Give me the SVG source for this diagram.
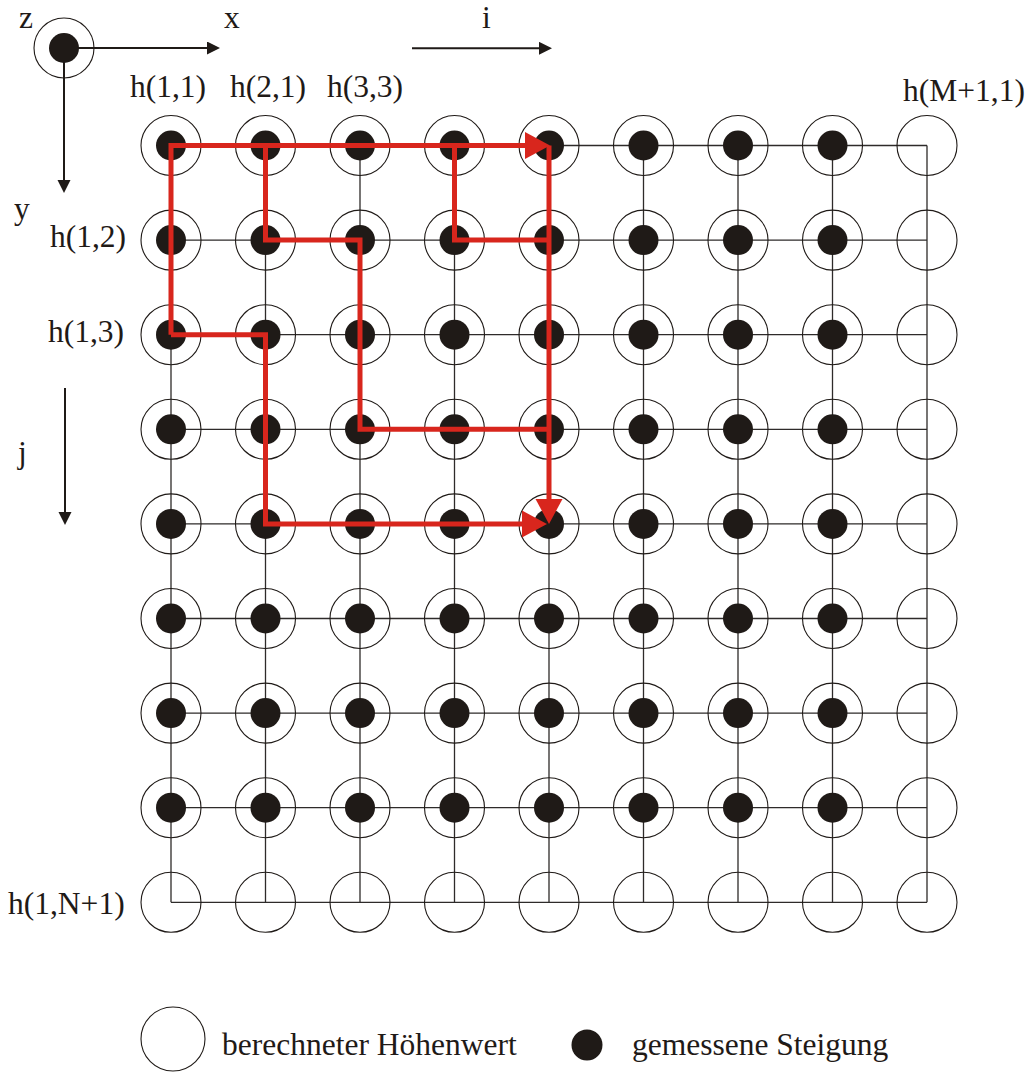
<svg xmlns="http://www.w3.org/2000/svg" xmlns:xlink="http://www.w3.org/1999/xlink" width="1032" height="1072" viewBox="0 0 1032 1072">
<defs>
<style>
.lbl{font-family:"Liberation Serif","Times New Roman",serif;font-size:31.5px;fill:#1f1a17}
.grid{stroke:#2e2b2a;stroke-width:1.3;fill:none}
.ring{fill:none;stroke:#1f1a17;stroke-width:1.1}
.dot{fill:#1f1a17}
.red{fill:none;stroke:#d8261d;stroke-width:5;stroke-linejoin:miter}
.axis{fill:none;stroke:#1f1a17;stroke-width:2}
</style>
<marker id="redArrow" markerUnits="userSpaceOnUse" markerWidth="26" markerHeight="28" refX="15" refY="13.5" orient="auto" viewBox="0 0 26 28">
<path d="M0,0 L25,13.5 L0,27 z" fill="#d8261d"/>
</marker>
<marker id="blkArrow" markerUnits="userSpaceOnUse" markerWidth="14" markerHeight="14" refX="2" refY="6.5" orient="auto" viewBox="0 0 14 14">
<path d="M0,0 L13,6.5 L0,13 z" fill="#1f1a17"/>
</marker>
<g id="full"><circle class="ring" r="30"/><circle class="dot" r="15"/></g>
<g id="empty"><circle class="ring" r="30"/></g>
</defs>
<rect width="1032" height="1072" fill="#ffffff"/>

<g id="connectors">
<g id="grid">
<path class="grid" d="M171,145.5H927M171,240.1H927M171,334.7H927M171,429.3H927M171,523.9H927M171,618.5H927M171,713.1H927M171,807.7H927M171,902.3H927"/>
<path class="grid" d="M171,145.5V902.3M265.5,145.5V902.3M360,145.5V902.3M454.5,145.5V902.3M549,145.5V902.3M643.5,145.5V902.3M738,145.5V902.3M832.5,145.5V902.3M927,145.5V902.3"/>
</g>
<g id="axes">
<path class="axis" d="M64,48H209" marker-end="url(#blkArrow)"/>
<path class="axis" d="M64,48V182" marker-end="url(#blkArrow)"/>
<path class="axis" d="M412,48.3H541" marker-end="url(#blkArrow)"/>
<path class="axis" d="M65,388V514" marker-end="url(#blkArrow)"/>
</g>
</g>

<g id="nodes">
<g id="axis-origin"><use xlink:href="#full" x="64" y="48"/></g>
<g id="row1">
<g id="n1-1"><use xlink:href="#full" x="171" y="145.5"/></g>
<g id="n2-1"><use xlink:href="#full" x="265.5" y="145.5"/></g>
<g id="n3-1"><use xlink:href="#full" x="360" y="145.5"/></g>
<g id="n4-1"><use xlink:href="#full" x="454.5" y="145.5"/></g>
<g id="n5-1"><use xlink:href="#full" x="549" y="145.5"/></g>
<g id="n6-1"><use xlink:href="#full" x="643.5" y="145.5"/></g>
<g id="n7-1"><use xlink:href="#full" x="738" y="145.5"/></g>
<g id="n8-1"><use xlink:href="#full" x="832.5" y="145.5"/></g>
<g id="n9-1"><use xlink:href="#empty" x="927" y="145.5"/></g>
</g>
<g id="row2">
<g id="n1-2"><use xlink:href="#full" x="171" y="240.1"/></g>
<g id="n2-2"><use xlink:href="#full" x="265.5" y="240.1"/></g>
<g id="n3-2"><use xlink:href="#full" x="360" y="240.1"/></g>
<g id="n4-2"><use xlink:href="#full" x="454.5" y="240.1"/></g>
<g id="n5-2"><use xlink:href="#full" x="549" y="240.1"/></g>
<g id="n6-2"><use xlink:href="#full" x="643.5" y="240.1"/></g>
<g id="n7-2"><use xlink:href="#full" x="738" y="240.1"/></g>
<g id="n8-2"><use xlink:href="#full" x="832.5" y="240.1"/></g>
<g id="n9-2"><use xlink:href="#empty" x="927" y="240.1"/></g>
</g>
<g id="row3">
<g id="n1-3"><use xlink:href="#full" x="171" y="334.7"/></g>
<g id="n2-3"><use xlink:href="#full" x="265.5" y="334.7"/></g>
<g id="n3-3"><use xlink:href="#full" x="360" y="334.7"/></g>
<g id="n4-3"><use xlink:href="#full" x="454.5" y="334.7"/></g>
<g id="n5-3"><use xlink:href="#full" x="549" y="334.7"/></g>
<g id="n6-3"><use xlink:href="#full" x="643.5" y="334.7"/></g>
<g id="n7-3"><use xlink:href="#full" x="738" y="334.7"/></g>
<g id="n8-3"><use xlink:href="#full" x="832.5" y="334.7"/></g>
<g id="n9-3"><use xlink:href="#empty" x="927" y="334.7"/></g>
</g>
<g id="row4">
<g id="n1-4"><use xlink:href="#full" x="171" y="429.3"/></g>
<g id="n2-4"><use xlink:href="#full" x="265.5" y="429.3"/></g>
<g id="n3-4"><use xlink:href="#full" x="360" y="429.3"/></g>
<g id="n4-4"><use xlink:href="#full" x="454.5" y="429.3"/></g>
<g id="n5-4"><use xlink:href="#full" x="549" y="429.3"/></g>
<g id="n6-4"><use xlink:href="#full" x="643.5" y="429.3"/></g>
<g id="n7-4"><use xlink:href="#full" x="738" y="429.3"/></g>
<g id="n8-4"><use xlink:href="#full" x="832.5" y="429.3"/></g>
<g id="n9-4"><use xlink:href="#empty" x="927" y="429.3"/></g>
</g>
<g id="row5">
<g id="n1-5"><use xlink:href="#full" x="171" y="523.9"/></g>
<g id="n2-5"><use xlink:href="#full" x="265.5" y="523.9"/></g>
<g id="n3-5"><use xlink:href="#full" x="360" y="523.9"/></g>
<g id="n4-5"><use xlink:href="#full" x="454.5" y="523.9"/></g>
<g id="n5-5"><use xlink:href="#full" x="549" y="523.9"/></g>
<g id="n6-5"><use xlink:href="#full" x="643.5" y="523.9"/></g>
<g id="n7-5"><use xlink:href="#full" x="738" y="523.9"/></g>
<g id="n8-5"><use xlink:href="#full" x="832.5" y="523.9"/></g>
<g id="n9-5"><use xlink:href="#empty" x="927" y="523.9"/></g>
</g>
<g id="row6">
<g id="n1-6"><use xlink:href="#full" x="171" y="618.5"/></g>
<g id="n2-6"><use xlink:href="#full" x="265.5" y="618.5"/></g>
<g id="n3-6"><use xlink:href="#full" x="360" y="618.5"/></g>
<g id="n4-6"><use xlink:href="#full" x="454.5" y="618.5"/></g>
<g id="n5-6"><use xlink:href="#full" x="549" y="618.5"/></g>
<g id="n6-6"><use xlink:href="#full" x="643.5" y="618.5"/></g>
<g id="n7-6"><use xlink:href="#full" x="738" y="618.5"/></g>
<g id="n8-6"><use xlink:href="#full" x="832.5" y="618.5"/></g>
<g id="n9-6"><use xlink:href="#empty" x="927" y="618.5"/></g>
</g>
<g id="row7">
<g id="n1-7"><use xlink:href="#full" x="171" y="713.1"/></g>
<g id="n2-7"><use xlink:href="#full" x="265.5" y="713.1"/></g>
<g id="n3-7"><use xlink:href="#full" x="360" y="713.1"/></g>
<g id="n4-7"><use xlink:href="#full" x="454.5" y="713.1"/></g>
<g id="n5-7"><use xlink:href="#full" x="549" y="713.1"/></g>
<g id="n6-7"><use xlink:href="#full" x="643.5" y="713.1"/></g>
<g id="n7-7"><use xlink:href="#full" x="738" y="713.1"/></g>
<g id="n8-7"><use xlink:href="#full" x="832.5" y="713.1"/></g>
<g id="n9-7"><use xlink:href="#empty" x="927" y="713.1"/></g>
</g>
<g id="row8">
<g id="n1-8"><use xlink:href="#full" x="171" y="807.7"/></g>
<g id="n2-8"><use xlink:href="#full" x="265.5" y="807.7"/></g>
<g id="n3-8"><use xlink:href="#full" x="360" y="807.7"/></g>
<g id="n4-8"><use xlink:href="#full" x="454.5" y="807.7"/></g>
<g id="n5-8"><use xlink:href="#full" x="549" y="807.7"/></g>
<g id="n6-8"><use xlink:href="#full" x="643.5" y="807.7"/></g>
<g id="n7-8"><use xlink:href="#full" x="738" y="807.7"/></g>
<g id="n8-8"><use xlink:href="#full" x="832.5" y="807.7"/></g>
<g id="n9-8"><use xlink:href="#empty" x="927" y="807.7"/></g>
</g>
<g id="row9">
<g id="n1-9"><use xlink:href="#empty" x="171" y="902.3"/></g>
<g id="n2-9"><use xlink:href="#empty" x="265.5" y="902.3"/></g>
<g id="n3-9"><use xlink:href="#empty" x="360" y="902.3"/></g>
<g id="n4-9"><use xlink:href="#empty" x="454.5" y="902.3"/></g>
<g id="n5-9"><use xlink:href="#empty" x="549" y="902.3"/></g>
<g id="n6-9"><use xlink:href="#empty" x="643.5" y="902.3"/></g>
<g id="n7-9"><use xlink:href="#empty" x="738" y="902.3"/></g>
<g id="n8-9"><use xlink:href="#empty" x="832.5" y="902.3"/></g>
<g id="n9-9"><use xlink:href="#empty" x="927" y="902.3"/></g>
</g>
</g>

<g id="paths">
<path class="red" d="M171,334.7V145.5H540" marker-end="url(#redArrow)"/>
<path class="red" d="M549,145.5V514" marker-end="url(#redArrow)"/>
<path class="red" d="M171,334.7H265.5V523.9H537" marker-end="url(#redArrow)"/>
<path class="red" d="M265.5,145.5V240.1H360V429.3H549"/>
<path class="red" d="M454.5,145.5V240.1H549"/>
</g>

<g id="labels">
<text class="lbl" x="19" y="28">z</text>
<text class="lbl" x="224" y="28">x</text>
<text class="lbl" x="14" y="219">y</text>
<text class="lbl" x="482" y="28">i</text>
<text class="lbl" x="18" y="463">j</text>
<text class="lbl" x="130" y="97">h(1,1)</text>
<text class="lbl" x="230" y="97">h(2,1)</text>
<text class="lbl" x="327" y="97">h(3,3)</text>
<text class="lbl" x="903" y="101">h(M+1,1)</text>
<text class="lbl" x="50" y="247">h(1,2)</text>
<text class="lbl" x="48" y="342">h(1,3)</text>
<text class="lbl" x="8" y="914">h(1,N+1)</text>
</g>

<g id="legend">
<g id="legend-computed">
<circle class="ring" cx="173" cy="1039" r="32"/>
<text class="lbl" x="222" y="1055">berechneter Höhenwert</text>
</g>
<g id="legend-measured">
<circle class="dot" cx="587" cy="1045" r="15.5"/>
<text class="lbl" x="632" y="1055">gemessene Steigung</text>
</g>
</g>
</svg>
